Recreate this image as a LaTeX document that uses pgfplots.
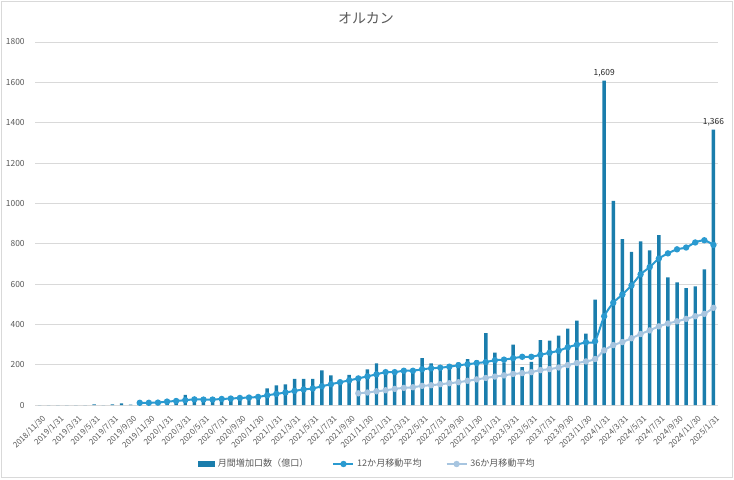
\documentclass[border=0pt]{standalone}
\usepackage{fontspec}
\setmainfont{Noto Sans CJK JP}
\usepackage{pgfplots}
\usepackage{pgfplotstable}
\pgfplotsset{compat=1.18}
\definecolor{barc}{HTML}{1A7DAC}
\definecolor{ma12}{HTML}{2A9AD0}
\definecolor{ma36}{HTML}{A7C5E0}
\definecolor{gridc}{HTML}{D9D9D9}
\definecolor{txt}{HTML}{595959}
\pgfplotstableread{
x bar ma12 ma36
0 0 nan nan
1 0 nan nan
2 0 nan nan
3 0 nan nan
4 0 nan nan
5 0 nan nan
6 3 nan nan
7 0 nan nan
8 3 nan nan
9 8 nan nan
10 2 nan nan
11 12 11 nan
12 10 11 nan
13 12 12 nan
14 18 17 nan
15 20 20 nan
16 50 24 nan
17 35 28 nan
18 33 27 nan
19 32 27 nan
20 37 30 nan
21 38 32 nan
22 42 35 nan
23 43 37 nan
24 52 40 nan
25 82 48 nan
26 97 55 nan
27 102 62 nan
28 130 70 nan
29 130 77 nan
30 130 82 nan
31 172 93 nan
32 147 103 nan
33 125 113 nan
34 150 122 nan
35 140 132 58
36 177 142 62
37 207 152 68
38 173 163 73
39 168 163 80
40 180 170 85
41 175 170 88
42 232 177 95
43 207 182 98
44 188 185 103
45 202 190 108
46 212 197 113
47 227 202 120
48 222 208 127
49 356 213 134
50 260 222 141
51 212 225 147
52 300 232 154
53 188 239 158
54 214 239 163
55 322 249 173
56 319 259 178
57 344 269 186
58 379 286 198
59 419 299 208
60 354 311 216
61 523 316 228
62 1609 440 271
63 1012 507 297
64 822 548 312
65 759 593 331
66 812 648 352
67 767 684 370
68 842 726 390
69 633 752 404
70 608 772 415
71 580 781 427
72 588 806 440
73 673 817 452
74 1366 794 482
}\datatable
\begin{document}
\begin{tikzpicture}
\useasboundingbox (0,0) rectangle (550.5pt,-359.25pt);
\draw[gridc, line width=0.75pt] (1pt,-1pt) rectangle (549.5pt,-358.25pt);
\node[txt, font=\fontsize{10.5}{12}\selectfont] at (274.5pt,-13.5pt) {オルカン};
\begin{axis}[
  at={(26.25pt,-303.75pt)}, anchor=south west,
  scale only axis, width=512.25pt, height=272.25pt,
  xmin=-0.5, xmax=74.5, ymin=0, ymax=1800,
  ytick={0,200,...,1800},
  ymajorgrids, grid style={gridc, line width=0.6pt},
  axis lines*=left,
  x axis line style={gridc, line width=0.6pt, -},
  y axis line style={draw=none},
  ytick style={draw=none},
  xtick={0,2,...,74},
  xticklabels={2018/11/30,2019/1/31,2019/3/31,2019/5/31,2019/7/31,2019/9/30,2019/11/30,2020/1/31,2020/3/31,2020/5/31,2020/7/31,2020/9/30,2020/11/30,2021/1/31,2021/3/31,2021/5/31,2021/7/31,2021/9/30,2021/11/30,2022/1/31,2022/3/31,2022/5/31,2022/7/31,2022/9/30,2022/11/30,2023/1/31,2023/3/31,2023/5/31,2023/7/31,2023/9/30,2023/11/30,2024/1/31,2024/3/31,2024/5/31,2024/7/31,2024/9/30,2024/11/30,2025/1/31},
  xtick style={draw=none},
  minor xtick={-0.5,0.5,...,74.5},
  minor tick length=3pt,
  minor x tick style={gridc, line width=0.6pt},
  tick align=outside,
  x tick label style={rotate=45, anchor=north east, font=\fontsize{6}{7}\selectfont, text=txt, inner sep=0.8pt, yshift=-2pt},
  y tick label style={font=\fontsize{6.3}{7}\selectfont, text=txt},
  /pgf/number format/assume math mode=true,
  yticklabel style={/pgf/number format/.cd, fixed, set thousands separator={}},
  legend style={at={(0.487,-0.1625)}, anchor=center, draw=none, fill=none,
    font=\fontsize{6.8}{8}\selectfont, text=txt, legend columns=3,
    /tikz/every even column/.append style={column sep=16pt}},
  legend cell align=left,
  clip=false,
]
\addplot[ybar, bar width=2.6pt, fill=barc, draw=none,
  legend image code/.code={\fill[barc] (0pt,-2pt) rectangle (13pt,2pt);}]
  table[x=x, y=bar] {\datatable};
\addlegendentry{月間増加口数（億口）}
\addplot[ma12, line width=1.5pt, smooth, tension=0.4, mark=*, mark size=1.6pt,
  mark options={fill=ma12, draw=ma12},
  legend image code/.code={\draw[mark repeat=2,mark phase=2] plot coordinates {(0pt,0pt) (7.5pt,0pt) (15pt,0pt)};}]
  table[x=x, y=ma12] {\datatable};
\addlegendentry{12か月移動平均}
\addplot[ma36, line width=1.5pt, smooth, tension=0.4, mark=*, mark size=1.6pt,
  mark options={fill=ma36, draw=ma36},
  legend image code/.code={\draw[mark repeat=2,mark phase=2] plot coordinates {(0pt,0pt) (7.5pt,0pt) (15pt,0pt)};}]
  table[x=x, y=ma36] {\datatable};
\addlegendentry{36か月移動平均}
\node[above, font=\fontsize{6.3}{7}\selectfont, text=black!85, inner sep=2pt] at (axis cs:62,1609) {1,609};
\node[above, font=\fontsize{6.3}{7}\selectfont, text=black!85, inner sep=2pt] at (axis cs:74,1366) {1,366};
\end{axis}
\end{tikzpicture}
\end{document}
